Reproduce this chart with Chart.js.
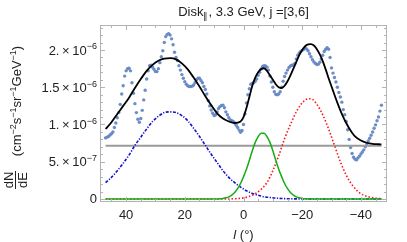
<!DOCTYPE html>
<html>
<head>
<meta charset="utf-8">
<script src="https://cdn.jsdelivr.net/npm/chart.js@4.4.1/dist/chart.umd.min.js"></script>
<style>
html, body { margin: 0; padding: 0; background: #fff; }
#chart { display: block; }
</style>
</head>
<body>
<canvas id="chart" width="407" height="242"></canvas>
<script>
// all fluxes are in units of 1e-6 cm^-2 s^-1 sr^-1 GeV^-1
const UNIT = 1e-6;

// measured points (blue dots)
const dotLon = [
  47, 46.5, 46, 45.5, 45, 44.5, 44, 43.5, 43, 42.5, 42, 41.5, 41, 40.5, 40, 39.5, 39, 38.5, 38, 37.5,
  37, 36.5, 36, 35.5, 35, 34.5, 34, 33.5, 33, 32.5, 32, 31.5, 31, 30.5, 30, 29.5, 29, 28.5, 28, 27.5,
  27, 26.5, 26, 25.5, 25, 24.5, 24, 23.5, 23, 22.5, 22, 21.5, 21, 20.5, 20, 19.5, 19, 18.5, 18, 17.5,
  17, 16.5, 16, 15.5, 15, 14.5, 14, 13.5, 13, 12.5, 12, 11.5, 11, 10.5, 10, 9.5, 9, 8.5, 8, 7.5,
  7, 6.5, 6, 5.5, 5, 4.5, 4, 3.5, 3, 2.5, 2, 1.5, 1, 0.5, 0, -0.5, -1, -1.5, -2, -2.5,
  -3, -3.5, -4, -4.5, -5, -5.5, -6, -6.5, -7, -7.5, -8, -8.5, -9, -9.5, -10, -10.5, -11, -11.5, -12, -12.5,
  -13, -13.5, -14, -14.5, -15, -15.5, -16, -16.5, -17, -17.5, -18, -18.5, -19, -19.5, -20, -20.5, -21, -21.5, -22, -22.5,
  -23, -23.5, -24, -24.5, -25, -25.5, -26, -26.5, -27, -27.5, -28, -28.5, -29, -29.5, -30, -30.5, -31, -31.5, -32, -32.5,
  -33, -33.5, -34, -34.5, -35, -35.5, -36, -36.5, -37, -37.5, -38, -38.5, -39, -39.5, -40, -40.5, -41, -41.5, -42, -42.5,
  -43, -43.5, -44, -44.5, -45, -45.5, -46, -46.5, -47
];
const dotFlux = [
  0.82, 0.83, 0.84, 0.86, 0.875, 0.90, 0.96, 1.02, 1.09, 1.16, 1.27, 1.41, 1.52, 1.65, 1.72, 1.75, 1.755, 1.72, 1.56, 1.42,
  1.28, 1.16, 1.07, 1.03, 1.08, 1.19, 1.33, 1.46, 1.61, 1.72, 1.79, 1.795, 1.77, 1.74, 1.71, 1.71, 1.75, 1.83, 1.91, 1.99,
  2.10, 2.18, 2.21, 2.22, 2.20, 2.15, 2.07, 1.97, 1.90, 1.86, 1.79, 1.73, 1.67, 1.62, 1.575, 1.54, 1.52, 1.51, 1.51, 1.515,
  1.53, 1.56, 1.60, 1.62, 1.62, 1.59, 1.56, 1.51, 1.47, 1.41, 1.32, 1.25, 1.195, 1.15, 1.12, 1.13, 1.17, 1.215, 1.24, 1.255,
  1.26, 1.225, 1.17, 1.13, 1.09, 1.06, 1.05, 1.04, 1.02, 0.99, 0.96, 0.925, 0.895, 0.92, 1.00, 1.14, 1.29, 1.40, 1.48, 1.54,
  1.55, 1.56, 1.58, 1.61, 1.66, 1.70, 1.745, 1.78, 1.79, 1.785, 1.77, 1.73, 1.65, 1.57, 1.50, 1.44, 1.405, 1.40, 1.41, 1.44,
  1.50, 1.58, 1.645, 1.69, 1.73, 1.765, 1.785, 1.795, 1.80, 1.82, 1.88, 1.93, 1.96, 1.98, 1.995, 2.01, 2.02, 2.015, 1.99, 1.95,
  1.91, 1.87, 1.84, 1.82, 1.805, 1.81, 1.835, 1.88, 1.93, 1.98, 2.01, 2.03, 2.01, 1.90, 1.76, 1.69, 1.63, 1.57, 1.50, 1.43,
  1.37, 1.30, 1.20, 1.13, 1.04, 0.93, 0.80, 0.69, 0.61, 0.56, 0.535, 0.525, 0.55, 0.575, 0.605, 0.63, 0.66, 0.70, 0.74, 0.78,
  0.815, 0.855, 0.90, 0.95, 0.995, 1.05, 1.10, 1.18, 1.26
];

// total fit (black)
const fitLon = [47, 45, 43, 41, 39, 37, 35, 33, 31, 29, 27, 25, 23, 21, 19, 17, 15, 13, 11, 9, 7, 5, 3, 1, 0,
  -1, -2, -3, -4, -5, -6, -7, -8, -9, -10, -11, -12, -13, -14, -15, -16, -17, -18, -19, -20, -21, -22, -23, -24,
  -25, -26, -27, -28, -29, -30, -31, -32, -33, -34, -35, -36, -37, -38, -40, -42, -44, -46, -47];
const fitFlux = [0.94, 1.03, 1.14, 1.25, 1.36, 1.49, 1.61, 1.72, 1.80, 1.855, 1.885, 1.89, 1.875, 1.82, 1.74, 1.63, 1.51, 1.38, 1.26, 1.15, 1.08, 1.04, 1.02, 1.04, 1.10,
  1.22, 1.37, 1.52, 1.63, 1.70, 1.745, 1.755, 1.72, 1.66, 1.60, 1.54, 1.50, 1.49, 1.52, 1.58, 1.66, 1.75, 1.84, 1.93, 2.00, 2.05, 2.075, 2.08, 2.06,
  2.01, 1.94, 1.85, 1.74, 1.62, 1.51, 1.40, 1.29, 1.19, 1.10, 1.02, 0.95, 0.89, 0.84, 0.785, 0.755, 0.74, 0.735, 0.733];

// broad component (blue dot-dashed)
const broadLon = [47, 45, 43, 41, 39, 37, 35, 33, 31, 29, 27, 25, 23, 21, 19, 17, 15, 13, 11, 9, 7, 5, 3, 1,
  -1, -3, -5, -7, -9, -11, -13, -15, -17, -19, -23, -30, -40, -47];
const broadFlux = [0.22, 0.29, 0.38, 0.48, 0.59, 0.72, 0.83, 0.94, 1.04, 1.11, 1.16, 1.17, 1.16, 1.12, 1.05, 0.95, 0.84, 0.72, 0.60, 0.49, 0.38, 0.29, 0.22, 0.16,
  0.11, 0.075, 0.05, 0.03, 0.02, 0.012, 0.007, 0.004, 0.002, 0.001, 0, 0, 0, 0];

// narrow component (green)
const narrowLon = [47, 20, 10, 8, 7, 6, 5, 4, 3, 2, 1, 0, -1, -2, -3, -4, -5, -6, -7, -8, -9, -10,
  -11, -12, -13, -14, -15, -16, -17, -18, -19, -20, -21, -23, -30, -47];
const narrowFlux = [0, 0, 0, 0.004, 0.008, 0.016, 0.029, 0.052, 0.086, 0.138, 0.208, 0.30, 0.40, 0.52, 0.647, 0.76, 0.838, 0.884, 0.884, 0.838, 0.76, 0.647,
  0.52, 0.40, 0.30, 0.208, 0.138, 0.086, 0.052, 0.029, 0.016, 0.008, 0.004, 0, 0, 0];

// third component (red dotted)
const thirdLon = [47, 10, 6, 4, 2, 0, -2, -4, -6, -8, -10, -12, -14, -16, -18, -20, -22, -23, -25, -27, -29, -31,
  -33, -35, -37, -39, -41, -43, -45, -47];
const thirdFlux = [0, 0, 0, 0.002, 0.006, 0.015, 0.035, 0.07, 0.13, 0.22, 0.38, 0.58, 0.81, 1.00, 1.17, 1.29, 1.345, 1.345, 1.27, 1.13, 0.94, 0.72,
  0.50, 0.32, 0.19, 0.10, 0.05, 0.025, 0.01, 0.004];

// isotropic level (gray)
const isoLon = [47, -47];
const isoFlux = [0.715, 0.715];

const xMajorTicks = [40, 20, 0, -20, -40];
const xMinorTicks = [45, 35, 30, 25, 15, 10, 5, -5, -10, -15, -25, -30, -35, -45];
const yMajorTicks = [0, 0.5, 1, 1.5, 2];
const yMinorTicks = [0.1, 0.2, 0.3, 0.4, 0.6, 0.7, 0.8, 0.9, 1.1, 1.2, 1.3, 1.4, 1.6, 1.7, 1.8, 1.9, 2.1, 2.2, 2.3];
// mantissa and exponent of each y tick label
const yTickMantissa = ['0', '5.', '1.', '1.5', '2.'];
const yTickExponent = ['', '\u22127', '\u22126', '\u22126', '\u22126'];

const FONT = '"Liberation Sans", Arial, sans-serif';

function toXY(lon, flux) {
    return lon.map((l, i) => ({ x: l, y: flux[i] * UNIT }));
}

// draws a run of text pieces: [text, 'n' | 'sup' | 'sub' | 'it']
function drawRich(ctx, parts, x, y, size, align) {
    const small = Math.round(size * 0.72);
    const fontFor = k => (k === 'it' ? 'italic ' : '') + ((k === 'sup' || k === 'sub') ? small : size) + 'px ' + FONT;
    let total = 0;
    parts.forEach(p => { ctx.font = fontFor(p[1]); total += ctx.measureText(p[0]).width; });
    let cx = align === 'right' ? x - total : x - total / 2;
    ctx.textAlign = 'left';
    ctx.textBaseline = 'alphabetic';
    parts.forEach(p => {
        ctx.font = fontFor(p[1]);
        let dy = 0;
        if (p[1] === 'sup') dy = -size * 0.4;
        if (p[1] === 'sub') dy = size * 0.22;
        ctx.fillText(p[0], cx, y + dy);
        cx += ctx.measureText(p[0]).width;
    });
}

const frameAndLabels = {
    id: 'frameAndLabels',
    afterDraw(chart) {
        const { ctx, chartArea: a, scales: { x, y } } = chart;
        ctx.save();

        // frame
        ctx.strokeStyle = '#b3b3b3';
        ctx.lineWidth = 1;
        ctx.strokeRect(a.left + 0.5, a.top + 0.5, a.right - a.left - 1, a.bottom - a.top - 1);

        // inward ticks on all four sides
        ctx.beginPath();
        const xTick = (v, len) => {
            const px = Math.round(x.getPixelForValue(v)) + 0.5;
            ctx.moveTo(px, a.bottom); ctx.lineTo(px, a.bottom - len);
            ctx.moveTo(px, a.top); ctx.lineTo(px, a.top + len);
        };
        const yTick = (v, len) => {
            const py = Math.round(y.getPixelForValue(v * UNIT)) + 0.5;
            ctx.moveTo(a.left, py); ctx.lineTo(a.left + len, py);
            ctx.moveTo(a.right, py); ctx.lineTo(a.right - len, py);
        };
        xMajorTicks.forEach(v => xTick(v, 5));
        xMinorTicks.forEach(v => xTick(v, 3));
        yMajorTicks.forEach(v => yTick(v, 5));
        yMinorTicks.forEach(v => yTick(v, 3));
        ctx.stroke();

        ctx.fillStyle = '#222';

        // y tick labels with proper exponents
        yMajorTicks.forEach((v, i) => {
            const py = y.getPixelForValue(v * UNIT) + 4.5;
            const parts = yTickExponent[i]
                ? [[yTickMantissa[i] + '\u2009×\u200910', 'n'], [yTickExponent[i], 'sup']]
                : [[yTickMantissa[i], 'n']];
            drawRich(ctx, parts, a.left - 3, py, 13, 'right');
        });

        // title
        drawRich(ctx, [['Disk', 'n'], ['\u2225', 'sub'], [', 3.3 GeV, j =[3,6]', 'n']], (a.left + a.right) / 2, 16, 13);

        // x axis label
        drawRich(ctx, [['l', 'it'], [' (°)', 'n']], (a.left + a.right) / 2, 239, 13);

        // y axis label: fraction dN/dE
        ctx.save();
        ctx.translate(15.5, 180);
        ctx.rotate(-Math.PI / 2);
        ctx.font = '13px ' + FONT;
        ctx.textAlign = 'center';
        ctx.textBaseline = 'alphabetic';
        ctx.fillText('dN', 0, -3);
        ctx.fillText('dE', 0, 11);
        ctx.fillRect(-9, -0.5, 18, 1);
        ctx.restore();

        // y axis label: units
        ctx.save();
        ctx.translate(21, 101);
        ctx.rotate(-Math.PI / 2);
        drawRich(ctx, [['(cm', 'n'], ['\u22122', 'sup'], ['s', 'n'], ['\u22121', 'sup'], ['sr', 'n'], ['\u22121', 'sup'], ['GeV', 'n'], ['\u22121', 'sup'], [')', 'n']], 0, 0, 13);
        ctx.restore();

        ctx.restore();
    }
};

const lineBase = { pointRadius: 0, fill: false, cubicInterpolationMode: 'monotone' };

const chart = new Chart(document.getElementById('chart'), {
    type: 'line',
    data: {
        datasets: [
            Object.assign({ label: 'Fit', data: toXY(fitLon, fitFlux), borderColor: '#000', borderWidth: 1.8 }, lineBase),
            Object.assign({ label: 'Narrow', data: toXY(narrowLon, narrowFlux), borderColor: '#12ad12', borderWidth: 1.5 }, lineBase),
            Object.assign({ label: 'Third', data: toXY(thirdLon, thirdFlux), borderColor: '#ff1414', borderWidth: 1.6, borderDash: [1.5, 2] }, lineBase),
            Object.assign({ label: 'Broad', data: toXY(broadLon, broadFlux), borderColor: '#1010cc', borderWidth: 1.6, borderDash: [3, 1.5, 1.2, 1.5] }, lineBase),
            Object.assign({ label: 'Isotropic', data: toXY(isoLon, isoFlux), borderColor: '#9a9a9a', borderWidth: 2 }, lineBase),
            {
                label: 'Data',
                data: toXY(dotLon, dotFlux),
                showLine: false,
                pointRadius: 1.7,
                pointBorderWidth: 0,
                pointBackgroundColor: 'rgba(100,135,195,0.95)',
                pointBorderColor: 'rgba(100,135,195,0.95)'
            }
        ]
    },
    options: {
        responsive: false,
        devicePixelRatio: 1,
        animation: false,
        layout: { padding: { top: 25, right: 20, left: 0, bottom: 0 } },
        plugins: { legend: { display: false }, tooltip: { enabled: false }, title: { display: false } },
        scales: {
            x: {
                type: 'linear',
                reverse: true,
                min: -48.9,
                max: 48.9,
                afterBuildTicks: scale => { scale.ticks = xMajorTicks.map(v => ({ value: v })); },
                afterFit: scale => { scale.height = 40; },
                grid: { display: false, drawTicks: false },
                border: { display: false },
                ticks: {
                    padding: 6,
                    color: '#222',
                    font: { family: FONT, size: 13 },
                    maxRotation: 0,
                    callback: v => (v < 0 ? '\u2212' + Math.abs(v) : String(v))
                }
            },
            y: {
                type: 'linear',
                min: -0.0403 * UNIT,
                max: 2.3356 * UNIT,
                afterBuildTicks: scale => { scale.ticks = yMajorTicks.map(v => ({ value: v * UNIT })); },
                afterFit: scale => { scale.width = 100; },
                grid: { display: false, drawTicks: false },
                border: { display: false },
                // labels are drawn by the plugin so the exponents can be raised
                ticks: { display: false }
            }
        }
    },
    plugins: [frameAndLabels]
});
</script>
</body>
</html>
